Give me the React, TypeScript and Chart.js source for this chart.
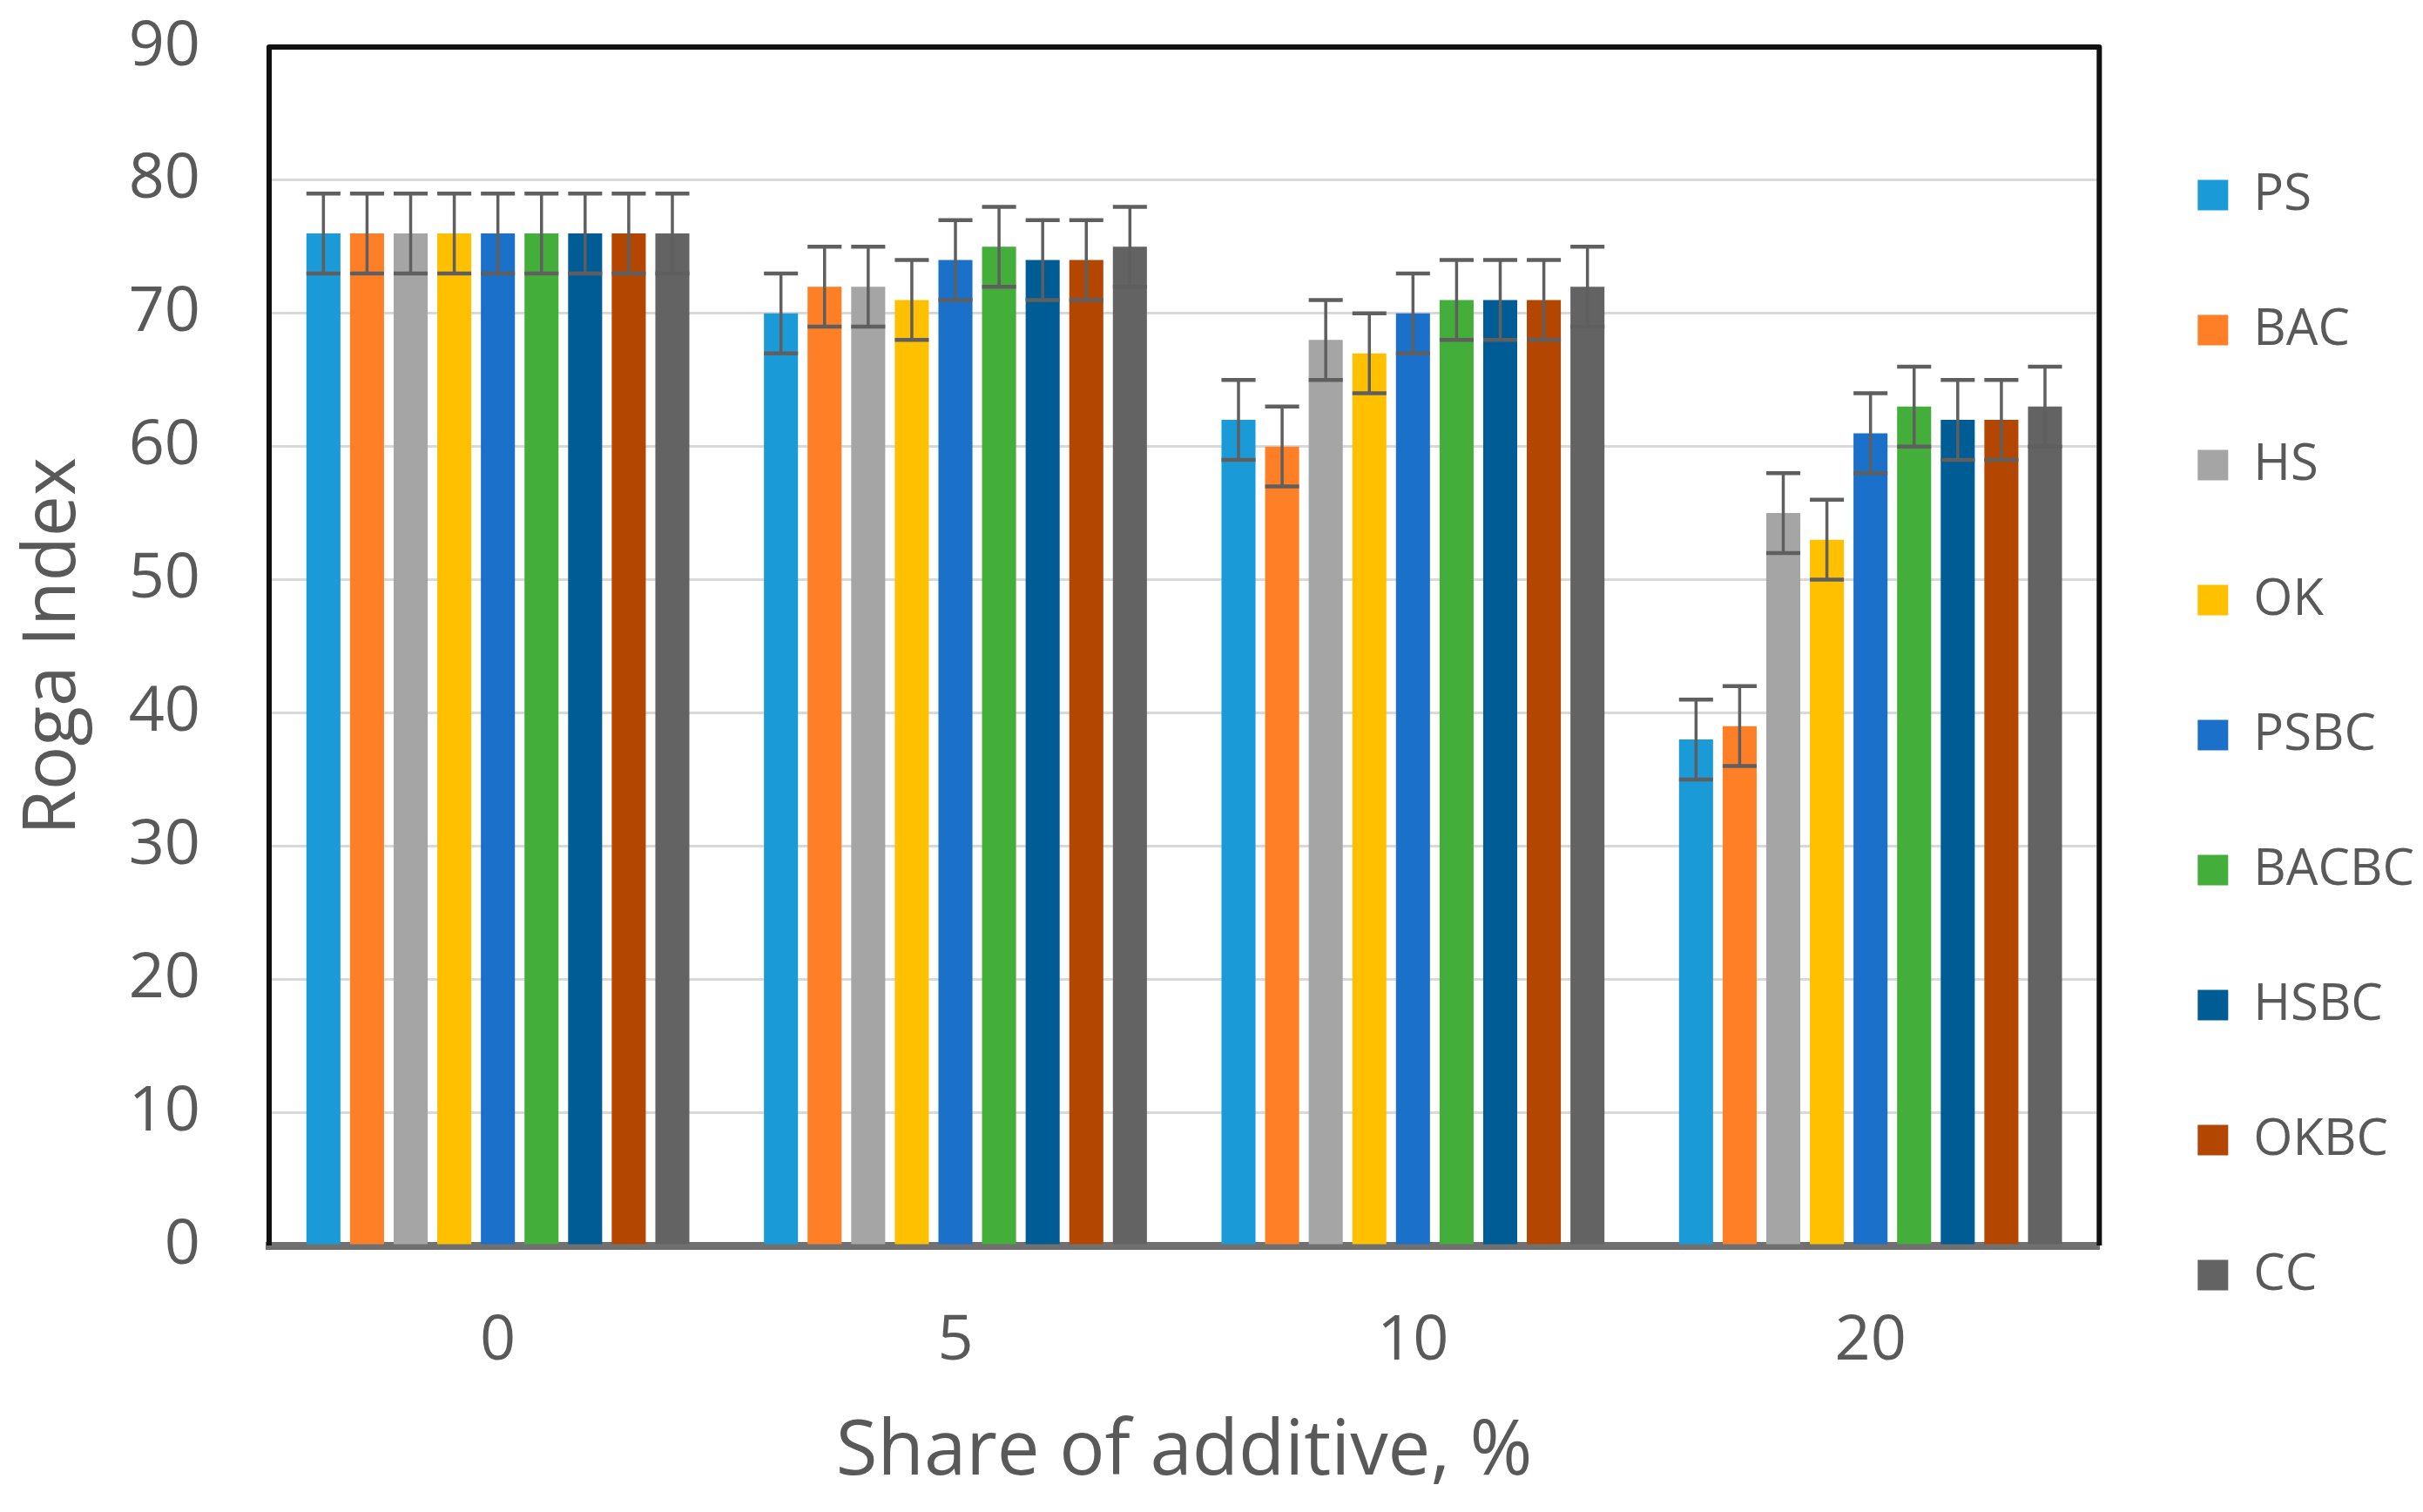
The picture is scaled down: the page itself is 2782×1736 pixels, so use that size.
import React, { useEffect, useRef } from 'react';
import { Chart, registerables } from 'chart.js';

Chart.register(...registerables);

// ---- data ----
const categories = ['0', '5', '10', '20'];
const seriesNames = ['PS', 'BAC', 'HS', 'OK', 'PSBC', 'BACBC', 'HSBC', 'OKBC', 'CC'];
const PS = [76, 70, 62, 38];
const BAC = [76, 72, 60, 39];
const HS = [76, 72, 68, 55];
const OK = [76, 71, 67, 53];
const PSBC = [76, 74, 70, 61];
const BACBC = [76, 75, 71, 63];
const HSBC = [76, 74, 71, 62];
const OKBC = [76, 74, 71, 62];
const CC = [76, 75, 72, 63];
const seriesValues = [PS, BAC, HS, OK, PSBC, BACBC, HSBC, OKBC, CC];
const errorValues = [
  [3, 3, 3, 3],
  [3, 3, 3, 3],
  [3, 3, 3, 3],
  [3, 3, 3, 3],
  [3, 3, 3, 3],
  [3, 3, 3, 3],
  [3, 3, 3, 3],
  [3, 3, 3, 3],
  [3, 3, 3, 3],
];
const yTicks = { min: 0, max: 90, step: 10 };
const colors = ['#1A9BD7', '#FF7F27', '#A5A5A5', '#FFC000', '#1B71C9', '#44AE3A', '#005C94', '#B34600', '#636363'];

const TEXT = '#595959';
const FONT = 'Open Sans';

const errorBarPlugin = {
  id: 'errorBars',
  afterDatasetsDraw(chart: any) {
    const ctx = chart.ctx;
    const y = chart.scales.y;
    ctx.save();
    ctx.strokeStyle = '#5f5f5f';
    chart.data.datasets.forEach((ds: any, i: number) => {
      const meta = chart.getDatasetMeta(i);
      meta.data.forEach((bar: any, j: number) => {
        const v = ds.data[j];
        const e = ds.errors[j];
        const top = y.getPixelForValue(v + e);
        const bot = y.getPixelForValue(v - e);
        const { x, width } = bar.getProps(['x', 'width'], true);
        ctx.lineWidth = 3.5;
        ctx.beginPath();
        ctx.moveTo(x, top);
        ctx.lineTo(x, bot);
        ctx.stroke();
        ctx.lineWidth = 4.5;
        ctx.beginPath();
        ctx.moveTo(x - width / 2, top);
        ctx.lineTo(x + width / 2, top);
        ctx.moveTo(x - width / 2, bot);
        ctx.lineTo(x + width / 2, bot);
        ctx.stroke();
      });
    });
    ctx.restore();
  },
};

const framePlugin = {
  id: 'frame',
  afterDraw(chart: any) {
    const { ctx, chartArea } = chart;
    ctx.save();
    ctx.strokeStyle = '#111111';
    ctx.lineWidth = 6;
    ctx.lineJoin = 'round';
    ctx.beginPath();
    ctx.moveTo(chartArea.left, chartArea.bottom);
    ctx.lineTo(chartArea.left, chartArea.top);
    ctx.lineTo(chartArea.right, chartArea.top);
    ctx.lineTo(chartArea.right, chartArea.bottom);
    ctx.stroke();
    ctx.restore();
  },
};

export default function App() {
  const ref = useRef<HTMLCanvasElement>(null);

  useEffect(() => {
    document.body.style.margin = '0';
    const canvas = ref.current;
    if (!canvas) return;
    const chart = new Chart(canvas, {
      type: 'bar',
      data: {
        labels: categories,
        datasets: seriesNames.map((name, i) => ({
          label: name,
          data: seriesValues[i],
          errors: errorValues[i],
          backgroundColor: colors[i],
          borderWidth: 0,
          categoryPercentage: 0.858,
          barPercentage: 0.78,
        })) as any,
      },
      options: {
        animation: false,
        responsive: false,
        devicePixelRatio: 1,
        layout: { padding: { top: 54, left: 0, right: 0, bottom: 0 } },
        plugins: {
          tooltip: { enabled: false },
          legend: {
            position: 'right',
            title: { display: true, text: '', font: { size: 10 }, padding: { top: -57, bottom: -57 } },
            labels: {
              boxWidth: 35,
              boxHeight: 35,
              padding: 97,
              color: TEXT,
              font: { family: FONT, size: 58 },
            },
          },
        },
        scales: {
          x: {
            grid: { display: false, drawTicks: false },
            border: { display: true, color: '#707070', width: 9 },
            ticks: { color: TEXT, font: { family: FONT, size: 72 }, padding: 67 },
            title: {
              display: true,
              text: 'Share of additive, %',
              color: TEXT,
              font: { family: FONT, size: 87 },
              padding: { top: 0, bottom: 16 },
            },
            afterFit: (s: any) => {
              s.height = 306;
              s.paddingLeft = 0;
              s.paddingRight = 0;
            },
          },
          y: {
            min: yTicks.min,
            max: yTicks.max,
            grid: { color: '#D9D9D9', lineWidth: 3, drawTicks: false },
            border: { display: false },
            ticks: { stepSize: yTicks.step, color: TEXT, font: { family: FONT, size: 72 }, padding: 79 },
            title: {
              display: true,
              text: 'Roga Index',
              color: TEXT,
              font: { family: FONT, size: 84 },
              padding: { top: 12, bottom: 0 },
            },
            afterFit: (s: any) => {
              s.width = 309;
              s.paddingTop = 0;
              s.paddingBottom = 0;
            },
          },
          yR: {
            type: 'linear',
            position: 'right',
            display: true,
            grid: { display: false, drawTicks: false },
            border: { display: false },
            ticks: { display: false },
            afterFit: (s: any) => {
              s.width = 16;
              s.paddingTop = 0;
              s.paddingBottom = 0;
            },
          },
        },
      } as any,
      plugins: [errorBarPlugin, framePlugin],
    });
    return () => chart.destroy();
  }, []);

  return (
    <div style={{ width: 2782, height: 1736, background: '#fff' }}>
      <canvas ref={ref} width={2782} height={1736} style={{ width: 2782, height: 1736, display: 'block' }} />
    </div>
  );
}
